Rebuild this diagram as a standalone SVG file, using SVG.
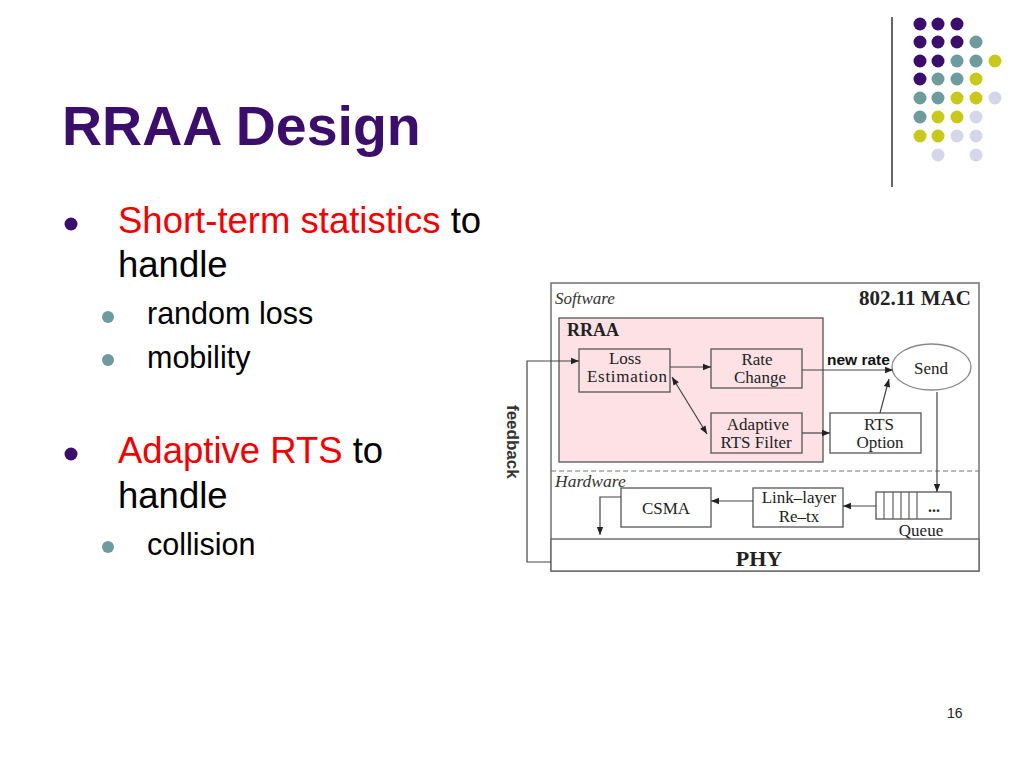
<svg xmlns="http://www.w3.org/2000/svg" width="1024" height="768" viewBox="0 0 1024 768">
<style>
.sans{font-family:"Liberation Sans",Arial,sans-serif}
.serif{font-family:"Liberation Serif","Times New Roman",serif}
.box{fill:#fff;stroke:#555;stroke-width:1.3}
.pbox{fill:#fde1e4;stroke:#555;stroke-width:1.3}
.lbl{font-family:"Liberation Serif","Times New Roman",serif;font-size:17px;fill:#222;text-anchor:middle}
.ln{fill:none;stroke:#444;stroke-width:1.2}
.p{fill:#3a0e6a}.t{fill:#6d9b9e}.y{fill:#c9c81c}.l{fill:#d6d6ea}
</style>
<defs>
<marker id="ah" viewBox="0 0 10 10" refX="10" refY="5" markerWidth="10" markerHeight="8" markerUnits="userSpaceOnUse" orient="auto-start-reverse">
<path d="M0,1 L10,5 L0,9 z" fill="#222"/>
</marker>
</defs>
<rect width="1024" height="768" fill="#fff"/>

<g id="decor">
<line x1="892" y1="17" x2="892" y2="187" stroke="#333" stroke-width="1.5"/>
<circle class="p" cx="920" cy="24" r="6.5"/><circle class="p" cx="938" cy="24" r="6.5"/><circle class="p" cx="957" cy="24" r="6.5"/>
<circle class="p" cx="920" cy="42" r="6.5"/><circle class="p" cx="938" cy="42" r="6.5"/><circle class="p" cx="957" cy="42" r="6.5"/><circle class="t" cx="976" cy="42" r="6.5"/>
<circle class="p" cx="920" cy="61" r="6.5"/><circle class="p" cx="938" cy="61" r="6.5"/><circle class="t" cx="957" cy="61" r="6.5"/><circle class="t" cx="976" cy="61" r="6.5"/><circle class="y" cx="995" cy="61" r="6.5"/>
<circle class="p" cx="920" cy="79" r="6.5"/><circle class="t" cx="938" cy="79" r="6.5"/><circle class="t" cx="957" cy="79" r="6.5"/><circle class="y" cx="976" cy="79" r="6.5"/>
<circle class="t" cx="920" cy="98" r="6.5"/><circle class="t" cx="938" cy="98" r="6.5"/><circle class="y" cx="957" cy="98" r="6.5"/><circle class="y" cx="976" cy="98" r="6.5"/><circle class="l" cx="995" cy="98" r="6.5"/>
<circle class="t" cx="920" cy="117" r="6.5"/><circle class="y" cx="938" cy="117" r="6.5"/><circle class="y" cx="957" cy="117" r="6.5"/><circle class="l" cx="976" cy="117" r="6.5"/>
<circle class="y" cx="920" cy="136" r="6.5"/><circle class="y" cx="938" cy="136" r="6.5"/><circle class="l" cx="957" cy="136" r="6.5"/><circle class="l" cx="976" cy="136" r="6.5"/>
<circle class="l" cx="938" cy="155" r="6.5"/><circle class="l" cx="976" cy="155" r="6.5"/>
</g>

<g id="slide-text" class="sans">
<text x="62" y="145" font-size="55.5" font-weight="bold" fill="#3a0e6a">RRAA Design</text>
<circle cx="71" cy="224" r="6.5" fill="#3a0e6a"/>
<text x="118" y="233" font-size="36.5"><tspan fill="#f00000">Short-term statistics</tspan><tspan fill="#000"> to</tspan></text>
<text x="118" y="277" font-size="36.5" fill="#000">handle</text>
<circle cx="108" cy="317" r="6" fill="#6d9b9e"/>
<text x="147" y="324" font-size="30.5" fill="#000">random loss</text>
<circle cx="108" cy="360" r="6" fill="#6d9b9e"/>
<text x="147" y="368" font-size="30.5" fill="#000">mobility</text>
<circle cx="71" cy="454" r="6.5" fill="#3a0e6a"/>
<text x="118" y="463" font-size="36.5"><tspan fill="#f00000">Adaptive RTS</tspan><tspan fill="#000"> to</tspan></text>
<text x="118" y="508" font-size="36.5" fill="#000">handle</text>
<circle cx="108" cy="547" r="6" fill="#6d9b9e"/>
<text x="147" y="555" font-size="30.5" fill="#000">collision</text>
<text x="947" y="718" font-size="14" fill="#222">16</text>
</g>

<g id="mac-frame">
<rect x="551" y="283" width="428" height="288" fill="#fff" stroke="#666" stroke-width="1.4"/>
<line x1="551" y1="471" x2="979" y2="471" stroke="#777" stroke-width="1.2" stroke-dasharray="5,3"/>
<text x="555" y="304" class="serif" font-size="17" font-style="italic" fill="#333">Software</text>
<text x="971" y="305" class="serif" font-size="21" font-weight="bold" fill="#222" text-anchor="end">802.11 MAC</text>
<text x="555" y="487" class="serif" font-size="17.5" font-style="italic" fill="#333">Hardware</text>
</g>
<g id="phy">
<rect x="551" y="539" width="428" height="32" fill="#fff" stroke="#666" stroke-width="1.4"/>
<text x="759" y="566" class="serif" font-size="22" font-weight="bold" fill="#222" text-anchor="middle">PHY</text>
</g>
<g id="rraa">
<rect x="559" y="318" width="264" height="144" class="pbox"/>
<text x="567" y="336" class="serif" font-size="18" font-weight="bold" fill="#222">RRAA</text>
</g>
<g id="loss-estimation">
<rect x="579" y="349" width="91" height="43" class="pbox"/>
<text class="lbl" x="625" y="364">Loss</text>
<text class="lbl" x="627" y="382" textLength="80" lengthAdjust="spacing">Estimation</text>
</g>
<g id="rate-change">
<rect x="711" y="349" width="91" height="39" class="pbox"/>
<text class="lbl" x="757" y="365">Rate</text>
<text class="lbl" x="760" y="383">Change</text>
</g>
<g id="adaptive-rts-filter">
<rect x="711" y="413" width="91" height="40" class="pbox"/>
<text class="lbl" x="758" y="430">Adaptive</text>
<text class="lbl" x="756" y="448">RTS Filter</text>
</g>
<g id="rts-option">
<rect x="830" y="413" width="91" height="40" class="box"/>
<text class="lbl" x="879" y="430">RTS</text>
<text class="lbl" x="880" y="448">Option</text>
</g>
<g id="send">
<ellipse cx="931.5" cy="367" rx="39.5" ry="23" fill="#fff" stroke="#888" stroke-width="1.3"/>
<text class="lbl" x="931" y="374">Send</text>
</g>
<g id="queue">
<rect x="876" y="492" width="75" height="27" class="box"/>
<path d="M884,492V519M893,492V519M901,492V519M909,492V519M917,492V519" stroke="#555" stroke-width="1.1"/>
<text x="934" y="512" class="serif" font-size="16" font-weight="bold" fill="#222" text-anchor="middle">...</text>
<text class="lbl" x="921" y="536">Queue</text>
</g>
<g id="link-layer">
<rect x="753" y="488" width="90" height="39" class="box"/>
<text class="lbl" x="799" y="503">Link–layer</text>
<text class="lbl" x="799" y="522">Re–tx</text>
</g>
<g id="csma">
<rect x="621" y="488" width="90" height="39" class="box"/>
<text class="lbl" x="666" y="514">CSMA</text>
</g>

<g id="connectors" class="ln">
<path d="M670,367H711" marker-end="url(#ah)"/>
<path d="M802,370H893" marker-end="url(#ah)"/>
<path d="M672,377L707,434" marker-start="url(#ah)" marker-end="url(#ah)"/>
<path d="M802,433H830" marker-end="url(#ah)"/>
<path d="M880,413L889,379" marker-end="url(#ah)"/>
<path d="M937,392V492" marker-end="url(#ah)"/>
<path d="M876,506H843" marker-end="url(#ah)"/>
<path d="M753,501H711" marker-end="url(#ah)"/>
<path d="M621,497H600V535" marker-end="url(#ah)"/>
<path d="M551,562H527V361H579" marker-end="url(#ah)"/>
</g>
<text x="0" y="0" transform="translate(507,405) rotate(90)" class="sans" font-size="17" font-weight="bold" fill="#333">feedback</text>
<text x="827" y="365" class="sans" font-size="15.5" font-weight="bold" fill="#111">new rate</text>
</svg>
